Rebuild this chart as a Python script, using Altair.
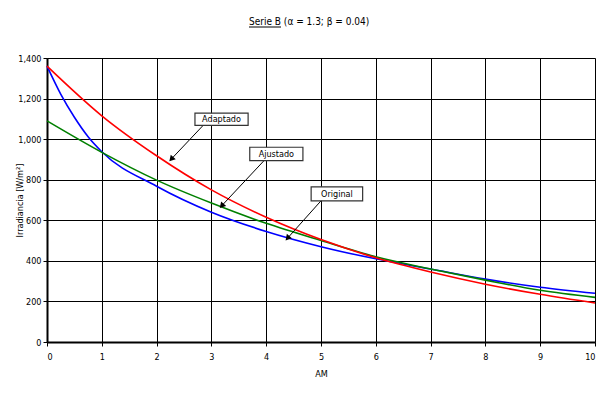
import altair as alt
import pandas as pd

FONT = "Liberation Sans Narrow, Arial Narrow, DejaVu Sans Condensed, Liberation Sans, sans-serif"

# Series
am_orig = [0, 0.25, 0.5, 0.75, 1, 2, 3, 4, 5, 6, 7, 8, 9, 10]
val_orig = [1360, 1222, 1108, 1012, 938, 768, 640, 545, 470, 410, 360, 310, 270, 240]
am_ajust = [0, 1, 2, 3, 4, 5, 6, 7, 8, 9, 10]
val_ajust = [1090, 935, 798, 685, 585, 500, 420, 360, 305, 255, 220]
am_adapt = [0, 1, 2, 3, 4, 5, 6, 7, 8, 9, 10]
val_adapt = [1360, 1115, 918, 750, 615, 505, 415, 345, 285, 235, 192]

# Annotation boxes (data units)
lab_names = ["Adaptado", "Ajustado", "Original"]
box_x1 = [2.70, 3.70, 4.82]
box_x2 = [3.67, 4.67, 5.76]
box_y1 = [1068, 894, 696]
box_y2 = [1128, 960, 765]
arrow_x1 = [2.85, 3.96, 5.0]
arrow_y1 = [1068, 894, 696]
arrow_x2 = [2.28, 3.20, 4.40]
arrow_y2 = [905, 675, 515]
arrow_ang = [222, 222, 221]

title_text = "Serie B (α = 1.3; β = 0.04)"

rows = []
for a, v in zip(am_orig, val_orig):
    rows.append({"AM": a, "val": v, "serie": "Original"})
for a, v in zip(am_ajust, val_ajust):
    rows.append({"AM": a, "val": v, "serie": "Ajustado"})
for a, v in zip(am_adapt, val_adapt):
    rows.append({"AM": a, "val": v, "serie": "Adaptado"})
df = pd.DataFrame(rows)

ann = pd.DataFrame({
    "name": lab_names, "x1": box_x1, "x2": box_x2, "y1": box_y1, "y2": box_y2,
    "ax1": arrow_x1, "ay1": arrow_y1, "ax2": arrow_x2, "ay2": arrow_y2, "ang": arrow_ang,
})
ann["cx"] = (ann["x1"] + ann["x2"]) / 2
ann["cy"] = (ann["y1"] + ann["y2"]) / 2

xs = alt.Scale(domain=[0, 10], nice=False)
ys = alt.Scale(domain=[0, 1400], nice=False)

xaxis = alt.Axis(values=list(range(0, 11)), title="AM", format="d",
                 labelFont=FONT, labelFontSize=9, titleFont=FONT, titleFontSize=9,
                 titleFontWeight="normal", titlePadding=8, labelPadding=6,
                 grid=True, gridColor="black", gridOpacity=1, gridWidth=1,
                 domainColor="black", domainWidth=2, tickColor="black", tickSize=4)
yaxis = alt.Axis(values=list(range(0, 1401, 200)), title="Irradiancia  [W/m²]", format=",d",
                 labelFont=FONT, labelFontSize=9, titleFont=FONT, titleFontSize=9,
                 titleFontWeight="normal", titleX=-28, titleY=142, titleAngle=270,
                 titleAlign="center", titleBaseline="middle", labelPadding=2,
                 grid=True, gridColor="black", gridOpacity=1, gridWidth=1,
                 domainColor="black", domainWidth=2, tickColor="black", tickSize=4)

color = alt.Color("serie:N", scale=alt.Scale(domain=["Original", "Ajustado", "Adaptado"],
                                              range=["#0000FF", "#008000", "#FF0000"]), legend=None)

lines = alt.Chart(df).mark_line(interpolate="monotone", strokeWidth=1.6).encode(
    x=alt.X("AM:Q", scale=xs, axis=xaxis),
    y=alt.Y("val:Q", scale=ys, axis=yaxis),
    color=color,
    detail="serie:N",
)

base = alt.Chart(ann)
arrows = base.mark_rule(color="black", strokeWidth=1).encode(
    x=alt.X("ax1:Q", scale=xs), y=alt.Y("ay1:Q", scale=ys),
    x2="ax2:Q", y2="ay2:Q")
heads = base.mark_point(shape="triangle", filled=True, color="black", size=45, opacity=1).encode(
    x=alt.X("ax2:Q", scale=xs), y=alt.Y("ay2:Q", scale=ys), angle=alt.Angle("ang:Q", scale=None))
boxes = base.mark_rect(fill="white", stroke="#333333", strokeWidth=1.2).encode(
    x=alt.X("x1:Q", scale=xs), x2="x2:Q", y=alt.Y("y1:Q", scale=ys), y2="y2:Q")
texts = base.mark_text(font=FONT, fontSize=9, color="black").encode(
    x=alt.X("cx:Q", scale=xs), y=alt.Y("cy:Q", scale=ys), text="name:N")

title_df = pd.DataFrame({"t": [title_text]})
title = alt.Chart(title_df).mark_text(font=FONT, fontSize=10, color="black", align="left",
                                      baseline="alphabetic").encode(
    x=alt.value(202), y=alt.value(-33), text="t:N")
underline = alt.Chart(title_df).mark_rule(color="black", strokeWidth=1).encode(
    x=alt.value(202), x2=alt.value(234), y=alt.value(-31))

chart = alt.layer(lines, arrows, heads, boxes, texts, title, underline).properties(
    width=548, height=284,
    autosize=alt.AutoSizeParams(type="none"),
    padding={"left": 39, "top": 50, "right": 10, "bottom": 49},
).configure_view(stroke="black", strokeWidth=1).configure(background="white")

chart.save("out.html", embed_options={"renderer": "svg", "actions": False})
